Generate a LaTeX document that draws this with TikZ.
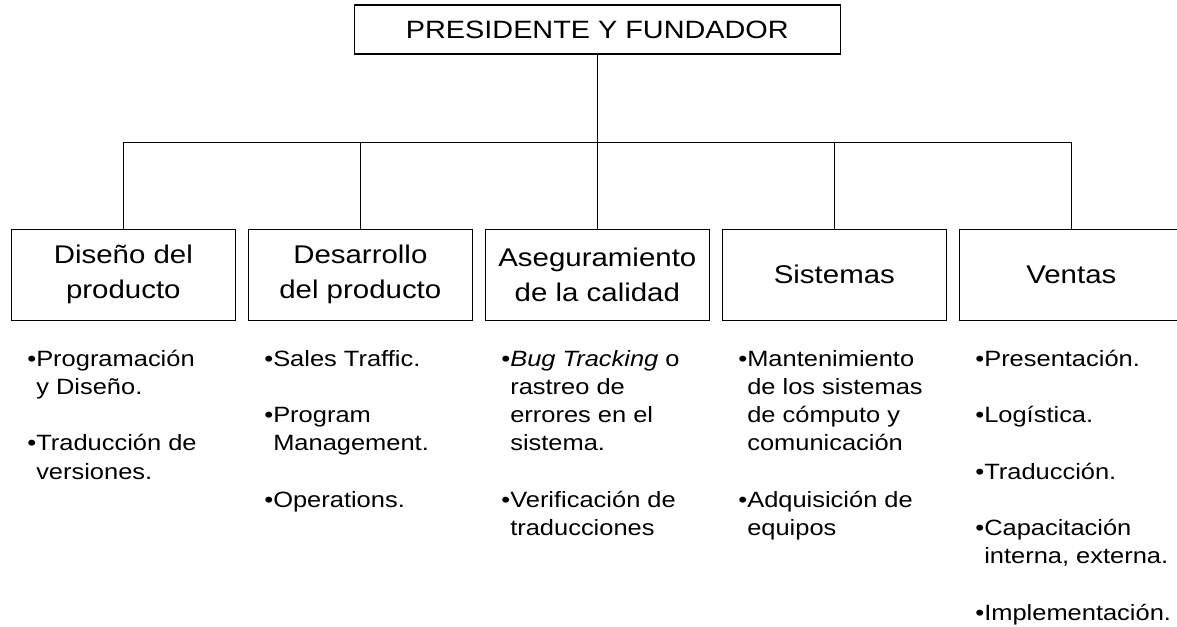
\documentclass[tikz,border=0pt]{standalone}
\usepackage{fontspec}
\setmainfont{Liberation Sans}[FakeStretch=1.15]
\usetikzlibrary{positioning}

\newcommand{\bul}{\strut\llap{\textbullet}}

\begin{document}
\begin{tikzpicture}[
        head/.style={rectangle, draw=black, line width=1pt, minimum width=364.5pt, minimum height=36.75pt, font=\fontsize{18.8pt}{22pt}\selectfont},
        area/.style={rectangle, draw=black, line width=1pt, minimum width=168pt, minimum height=68.25pt, align=center, font=\fontsize{19.2pt}{26.25pt}\selectfont},
        tasks/.style={align=left, inner sep=0pt, anchor=north west, font=\fontsize{16.6pt}{21.2pt}\selectfont},
        link/.style={line width=1pt},
    ]
    \useasboundingbox (0,0) rectangle (882.75pt,-469.5pt);

    \node[head] (Presidente) at (448pt,-22.1pt) {PRESIDENTE Y FUNDADOR};
    \node[area] (Calidad) [below=130.5pt of Presidente] {Aseguramiento\\de la calidad};
    \node[area] (Desarrollo) [left=8.75pt of Calidad] {Desarrollo\\del producto};
    \node[area] (Diseno) [left=8.75pt of Desarrollo] {Diseño del\\producto};
    \node[area] (Sistemas) [right=8.75pt of Calidad] {Sistemas};
    \node[area] (Ventas) [right=8.75pt of Sistemas] {Ventas};
    \coordinate[below=66pt of Presidente] (Bus);

    % lists under each area
    \node[tasks] (DisenoList) at ([shift={(19pt,-18.75pt)}]Diseno.south west)
        {\bul Programación\\y Diseño.\\[21.2pt]\bul Traducción de\\versiones.};
    \node[tasks] (DesarrolloList) at ([shift={(19pt,-18.75pt)}]Desarrollo.south west)
        {\bul Sales Traffic.\\[21.2pt]\bul Program\\Management.\\[21.2pt]\bul Operations.};
    \node[tasks] (CalidadList) at ([shift={(19pt,-18.75pt)}]Calidad.south west)
        {\bul\textit{Bug Tracking} o\\rastreo de\\errores en el\\sistema.\\[21.2pt]\bul Verificación de\\traducciones};
    \node[tasks] (SistemasList) at ([shift={(19pt,-18.75pt)}]Sistemas.south west)
        {\bul Mantenimiento\\de los sistemas\\de cómputo y\\comunicación\\[21.2pt]\bul Adquisición de\\equipos};
    \node[tasks] (VentasList) at ([shift={(19pt,-18.75pt)}]Ventas.south west)
        {\bul Presentación.\\[21.2pt]\bul Logística.\\[21.2pt]\bul Traducción.\\[21.2pt]\bul Capacitación\\interna, externa.\\[21.2pt]\bul Implementación.};

    \draw[link] (Presidente) -- (Bus);
    \draw[link] (Diseno) |- (Bus) -| (Ventas);
    \draw[link] (Desarrollo) -- (Desarrollo |- Bus);
    \draw[link] (Calidad) -- (Calidad |- Bus);
    \draw[link] (Sistemas) -- (Sistemas |- Bus);
\end{tikzpicture}
\end{document}
